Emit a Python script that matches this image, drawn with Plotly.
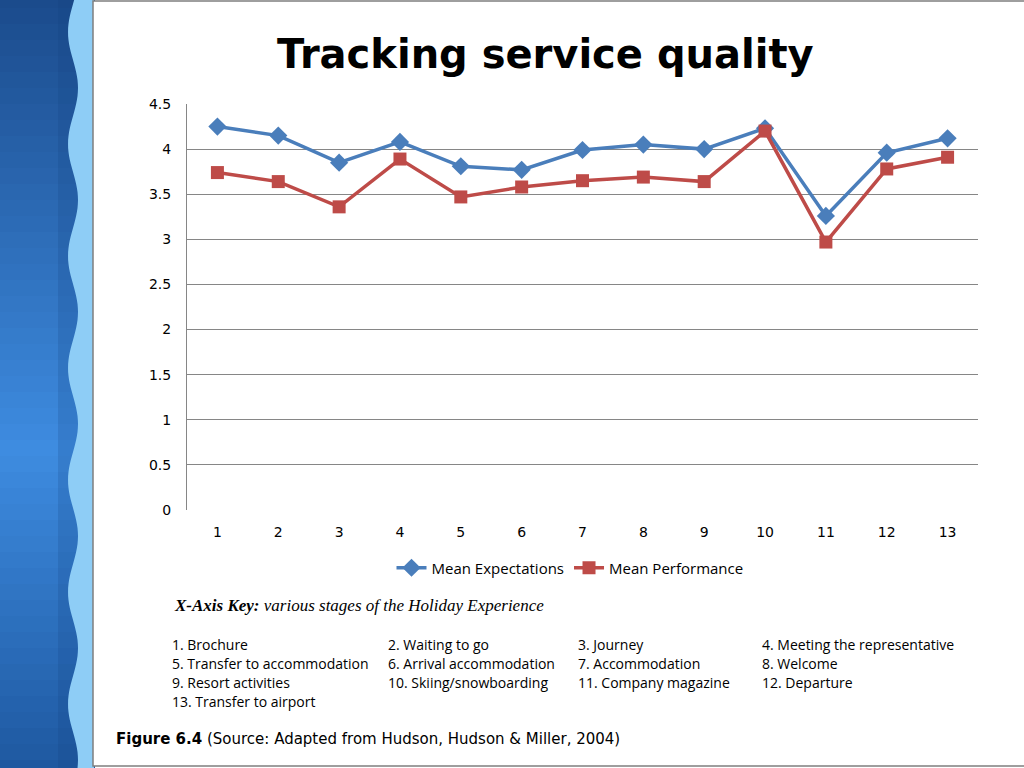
import math
import plotly.graph_objects as go

# Dados do gráfico
stages = list(range(1, 14))
mean_expectations = [4.25, 4.15, 3.85, 4.08, 3.81, 3.77, 3.99, 4.05, 4.00, 4.23, 3.26, 3.96, 4.12]
mean_performance = [3.74, 3.64, 3.36, 3.89, 3.47, 3.58, 3.65, 3.69, 3.64, 4.20, 2.97, 3.78, 3.91]
y_ticks = [0, 0.5, 1, 1.5, 2, 2.5, 3, 3.5, 4, 4.5]

key_labels = [
    "1. Brochure", "2. Waiting to go", "3. Journey", "4. Meeting the representative",
    "5. Transfer to accommodation", "6. Arrival accommodation", "7. Accommodation", "8. Welcome",
    "9. Resort activities", "10. Skiing/snowboarding", "11. Company magazine", "12. Departure",
    "13. Transfer to airport",
]

W, H = 1024, 768
PL, PR, PT, PB = 187, 978, 104, 510  # área do gráfico em pixels


def px_x(x):
    return (x - PL) / (PR - PL)


def px_y(y):
    return (PB - y) / (PB - PT)


def mix(c1, c2, t):
    return "rgb(%d,%d,%d)" % tuple(round(a + (b - a) * t) for a, b in zip(c1, c2))


fig = go.Figure()

fig.add_trace(go.Scatter(
    x=stages, y=mean_expectations, name="Mean Expectations",
    mode="lines+markers",
    line=dict(color="#4A7EBB", width=3.5),
    marker=dict(symbol="diamond", size=14, color="#4A7EBB"),
))
fig.add_trace(go.Scatter(
    x=stages, y=mean_performance, name="Mean Performance",
    mode="lines+markers",
    line=dict(color="#BE4B48", width=3.5),
    marker=dict(symbol="square", size=13, color="#BE4B48"),
))

# fundo decorativo azul à esquerda (degradê vertical)
shapes = []
top_c, mid_c, bot_c = (27, 75, 140), (62, 140, 224), (30, 88, 160)
step = 16
for y0 in range(-8, 776, step):
    yc = y0 + step / 2
    if yc < 450:
        col = mix(top_c, mid_c, max(0.0, yc) / 450)
    else:
        col = mix(mid_c, bot_c, min(1.0, (yc - 450) / 318))
    shapes.append(dict(type="rect", xref="paper", yref="paper", x0=px_x(-5), x1=px_x(95),
                       y0=px_y(y0 + step + 1), y1=px_y(y0), fillcolor=col,
                       line=dict(width=0), layer="below"))
# sombra perto da onda
shapes.append(dict(type="rect", xref="paper", yref="paper", x0=px_x(58), x1=px_x(80),
                   y0=px_y(776), y1=px_y(-8), fillcolor="#123C78", opacity=0.18,
                   line=dict(width=0), layer="below"))
# faixa ondulada azul clara
path = "M %.4f,%.4f " % (px_x(94), px_y(-8))
for i in range(-8, 777, 4):
    xw = 73 + 5 * math.cos(2 * math.pi * (i - 88) / 112)
    path += "L %.4f,%.4f " % (px_x(xw), px_y(i))
path += "L %.4f,%.4f Z" % (px_x(94), px_y(776))
shapes.append(dict(type="path", xref="paper", yref="paper", path=path,
                   fillcolor="#8ECDF6", line=dict(width=0), layer="below"))
# painel branco
shapes.append(dict(type="rect", xref="paper", yref="paper", x0=px_x(93), x1=px_x(1030),
                   y0=px_y(766), y1=px_y(1), fillcolor="white",
                   line=dict(color="#7F7F7F", width=1.5), layer="below"))

annotations = [
    dict(text="<b>Tracking service quality</b>", x=px_x(545), y=px_y(54), xref="paper", yref="paper",
         showarrow=False, font=dict(family="DejaVu Sans", size=40, color="black"),
         xanchor="center", yanchor="middle"),
    dict(text="<b><i>X-Axis Key:</i></b><i> various stages of the Holiday Experience</i>",
         x=px_x(172), y=px_y(605),
         xref="paper", yref="paper", showarrow=False, xanchor="left", yanchor="middle",
         font=dict(family="Liberation Serif", size=17, color="black")),
    dict(text="<b>Figure 6.4</b> (Source: Adapted from Hudson, Hudson &amp; Miller, 2004)",
         x=px_x(114), y=px_y(739), xref="paper", yref="paper", showarrow=False,
         xanchor="left", yanchor="middle",
         font=dict(family="DejaVu Sans", size=15, color="black")),
]

col_x = [170, 386, 576, 760]
row_y = [644, 663, 682, 701]
for i, lab in enumerate(key_labels):
    annotations.append(dict(
        text=lab, x=px_x(col_x[i % 4]), y=px_y(row_y[i // 4]), xref="paper", yref="paper",
        showarrow=False, xanchor="left", yanchor="middle",
        font=dict(family="Open Sans", size=14, color="black"),
    ))

fig.update_layout(
    width=W, height=H,
    margin=dict(l=PL, r=W - PR, t=PT, b=H - PB),
    paper_bgcolor="white",
    plot_bgcolor="white",
    showlegend=True,
    legend=dict(orientation="h", x=px_x(570), xanchor="center", y=px_y(568),
                yanchor="middle", font=dict(family="Open Sans", size=15, color="black"),
                bgcolor="rgba(0,0,0,0)"),
    xaxis=dict(range=[0.5, 13.5], tickvals=stages, showgrid=False, zeroline=False,
               showline=False, ticks="", ticklabelstandoff=12,
               tickfont=dict(family="DejaVu Sans", size=14, color="black")),
    yaxis=dict(range=[0, 4.5], tickvals=y_ticks, ticktext=[str(v) for v in y_ticks],
               showgrid=True, gridcolor="#868686", gridwidth=1, zeroline=False,
               showline=True, linecolor="#868686", linewidth=1, ticks="", ticklabelstandoff=12,
               tickfont=dict(family="DejaVu Sans", size=14, color="black")),
    shapes=shapes,
    annotations=annotations,
)

fig.write_html("out.html", config={"displayModeBar": False},
               post_script="document.body.style.margin='0';")
